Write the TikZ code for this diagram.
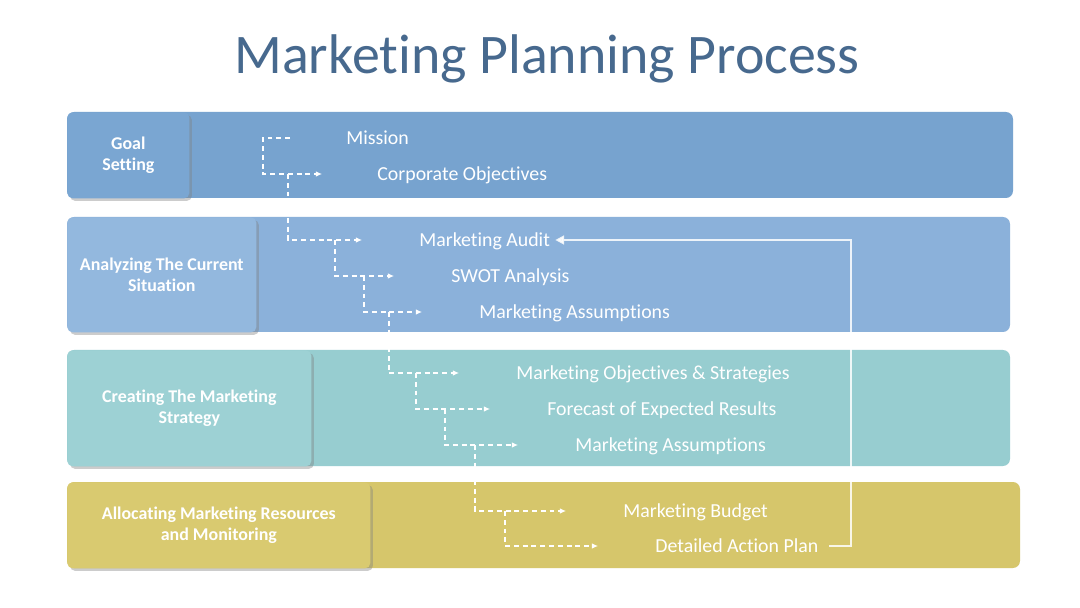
\documentclass[tikz,border=0pt]{standalone}
\usepackage{fontspec}
\setmainfont[Ligatures=NoCommon]{Carlito}
\usepackage{xcolor}
\usetikzlibrary{arrows.meta,shadows}

\definecolor{titleblue}{HTML}{47698E}
\definecolor{goalband}{HTML}{77A3CF}
\definecolor{goalbox}{HTML}{7AA6D2}
\definecolor{auditband}{HTML}{8BB1DA}
\definecolor{auditbox}{HTML}{93B8DE}
\definecolor{stratband}{HTML}{97CDD0}
\definecolor{stratbox}{HTML}{9DD1D4}
\definecolor{allocband}{HTML}{D6C66B}
\definecolor{allocbox}{HTML}{D9CA70}

\tikzset{
  band/.style={rounded corners=4pt},
  stagebox/.style={anchor=north west, inner sep=0pt, align=center, text=white,
    font=\fontsize{10.2}{11.9}\selectfont\bfseries, rounded corners=3pt,
    drop shadow={opacity=0.4, shadow xshift=1.5pt, shadow yshift=-1.5pt}},
  item/.style={anchor=west, inner sep=0pt, text=white,
    font=\fontsize{11.3}{13}\selectfont, text height=7.3pt, text depth=0pt},
  flow/.style={white, line width=0.6pt, dash pattern=on 2.8pt off 2.2pt,
    -{Latex[length=3.5pt,width=3.2pt]}},
  feedback/.style={white, opacity=0.85, line width=1.2pt,
    -{Triangle[length=5pt,width=5pt]}},
}

\begin{document}
\begin{tikzpicture}[x=0.02cm,y=-0.02cm]
\fill[white] (0,0) rectangle (1080,608);
\useasboundingbox (0,0) rectangle (1080,608);
\node[font=\fontsize{31.8}{36}\selectfont, text=titleblue, anchor=base] (title) at (547,74) {Marketing Planning Process};
% bands
\fill[band,goalband] (67,112) rectangle (1013,198);
\fill[band,auditband] (67,217) rectangle (1010,332);
\fill[band,stratband] (67,350) rectangle (1010,466);
\fill[band,allocband] (67,482) rectangle (1020,568);
% stage labels
\node[stagebox, fill=goalbox, minimum width=2.44cm, minimum height=1.72cm] (goal) at (67,112) {Goal\\Setting};
\node[stagebox, fill=auditbox, minimum width=3.78cm, minimum height=2.30cm] (analyze) at (67,217) {Analyzing The Current\\Situation};
\node[stagebox, fill=stratbox, minimum width=4.88cm, minimum height=2.32cm] (create) at (67,350) {Creating The Marketing\\Strategy};
\node[stagebox, fill=allocbox, minimum width=6.06cm, minimum height=1.72cm] (allocate) at (67,482) {Allocating Marketing Resources\\and Monitoring};
% steps
\node[item] (mission) at (346,138) {Mission};
\node[item] (corp) at (377,174) {Corporate Objectives};
\node[item] (audit) at (419,240) {Marketing Audit};
\node[item] (swot) at (451,276) {SWOT Analysis};
\node[item] (assum) at (479,312) {Marketing Assumptions};
\node[item] (mobj) at (516,373) {Marketing Objectives \& Strategies};
\node[item] (fcast) at (547,409) {Forecast of Expected Results};
\node[item] (assumb) at (575,445) {Marketing Assumptions};
\node[item] (budget) at (623,511) {Marketing Budget};
\node[item] (plan) at (655,546) {Detailed Action Plan};
% connectors
\draw[flow] ([shift={(-56,0)}]mission.west) -- ++(-27,0) |- ([shift={(-55,0)}]corp.west);
\foreach \a/\b/\d in {corp/audit/89,audit/swot/84,swot/assum/87,assum/mobj/90,
  mobj/fcast/100,fcast/assumb/102,assumb/budget/100,budget/plan/118}
  \draw[flow] ([shift={(-\d,0)}]\a.west) |- ([shift={(-57,0)}]\b.west);
\draw[feedback] ([shift={(10,0)}]plan.east) -- ++(22,0) |- ([shift={(5,0)}]audit.east);
\end{tikzpicture}
\end{document}
